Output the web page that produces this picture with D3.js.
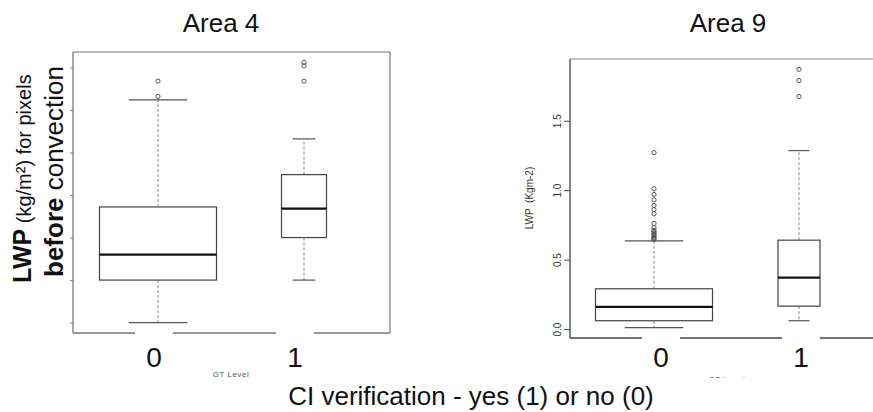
<!DOCTYPE html>
<html>
<head>
<meta charset="utf-8">
<script src="https://cdn.jsdelivr.net/npm/d3@7"></script>
<style>
  body { margin: 0; background: #fff; }
  text { font-family: "Liberation Sans", Arial, sans-serif; }
</style>
</head>
<body>
<div id="container"></div>
<script>
  // categories on the x axis (GT level)
  var categories = ["0", "1"];

  // Area 4 box statistics (y labels hidden in source)
  var area4Low = [0.00, 0.25];
  var area4Q1 = [0.25, 0.50];
  var area4Median = [0.40, 0.67];
  var area4Q3 = [0.68, 0.87];
  var area4High = [1.31, 1.08];
  var area4Outliers = [[1.33, 1.42], [1.42, 1.51, 1.53]];
  var area4Ticks = [0, 0.25, 0.5, 0.75, 1.0, 1.25, 1.5];

  // Area 9 box statistics
  var area9Low = [0.01, 0.06];
  var area9Q1 = [0.06, 0.165];
  var area9Median = [0.16, 0.37];
  var area9Q3 = [0.29, 0.64];
  var area9High = [0.635, 1.285];
  var area9Outliers = [
    [1.27, 1.01, 0.97, 0.93, 0.89, 0.86, 0.83, 0.76, 0.73, 0.71, 0.70, 0.69, 0.68, 0.67, 0.66, 0.65, 0.645],
    [1.675, 1.79, 1.87]
  ];
  var area9Ticks = [0.0, 0.5, 1.0, 1.5];
  var area9TickLabels = ["0.0", "0.5", "1.0", "1.5"];

  var width = 873, height = 412;

  var svg = d3.select("#container")
    .append("svg")
      .attr("width", width)
      .attr("height", height);

  svg.append("rect").attr("width", width).attr("height", height).attr("fill", "#fff");

  function boxData(low, q1, med, q3, high, outl) {
    return categories.map(function (c, i) {
      return { cat: c, low: low[i], q1: q1[i], med: med[i], q3: q3[i], high: high[i], out: outl[i] };
    });
  }

  function panel(p) {
    var data = boxData(p.low, p.q1, p.med, p.q3, p.high, p.out);

    // R style range: data extent plus 4%
    var all = [];
    data.forEach(function (d) { all.push(d.low, d.high); all = all.concat(d.out); });
    var lo = d3.min(all), hi = d3.max(all), pad = (hi - lo) * 0.04;

    var y = d3.scaleLinear().domain([lo - pad, hi + pad]).range([p.bottom, p.top]);
    var x = d3.scalePoint().domain(categories).range(p.centers);
    var xl = d3.scalePoint().domain(categories).range(p.labelCenters);

    var g = svg.append("g");

    // frame
    g.append("line").attr("x1", p.left).attr("x2", p.right).attr("y1", p.top).attr("y2", p.top)
      .attr("stroke", p.frameColor).attr("stroke-width", 1.2);
    g.append("line").attr("x1", p.right).attr("x2", p.right).attr("y1", p.top).attr("y2", p.bottom)
      .attr("stroke", p.frameColor).attr("stroke-width", 1.2);
    g.append("line").attr("x1", p.left).attr("x2", p.right).attr("y1", p.bottom).attr("y2", p.bottom)
      .attr("stroke", p.axisColor).attr("stroke-width", 1.3);

    // y axis
    var yAxis = d3.axisLeft(y).tickValues(p.ticks).tickSize(p.tickLen).tickSizeOuter(0)
      .tickFormat(function (d, i) { return p.tickLabels ? p.tickLabels[i] : ""; });
    var ax = g.append("g").attr("transform", "translate(" + p.left + ",0)").call(yAxis);
    ax.select(".domain").attr("stroke", p.axisColor).attr("stroke-width", 1.3)
      .attr("d", "M0," + p.top + "V" + p.bottom);
    ax.selectAll(".tick line").attr("stroke", p.axisColor);
    ax.selectAll(".tick text")
      .attr("transform", "rotate(-90)")
      .attr("x", 0).attr("y", -9).attr("dy", 0)
      .attr("text-anchor", "middle")
      .attr("fill", "#333")
      .style("font-size", "10px")
      .style("font-family", "'Liberation Sans', Arial, sans-serif");

    var boxes = g.selectAll(".box").data(data).enter().append("g").attr("class", "box");

    // whiskers
    boxes.append("line")
      .attr("x1", function (d) { return x(d.cat); }).attr("x2", function (d) { return x(d.cat); })
      .attr("y1", function (d) { return y(d.q3); }).attr("y2", function (d) { return y(d.high); })
      .attr("stroke", "#888").attr("stroke-dasharray", "3,2");
    boxes.append("line")
      .attr("x1", function (d) { return x(d.cat); }).attr("x2", function (d) { return x(d.cat); })
      .attr("y1", function (d) { return y(d.q1); }).attr("y2", function (d) { return y(d.low); })
      .attr("stroke", "#888").attr("stroke-dasharray", "3,2");

    // caps, half the box width
    ["high", "low"].forEach(function (k) {
      boxes.append("line")
        .attr("x1", function (d, i) { return x(d.cat) - p.boxWidths[i] / 4; })
        .attr("x2", function (d, i) { return x(d.cat) + p.boxWidths[i] / 4; })
        .attr("y1", function (d) { return y(d[k]); }).attr("y2", function (d) { return y(d[k]); })
        .attr("stroke", "#555").attr("stroke-width", 1.2);
    });

    // box
    boxes.append("rect")
      .attr("x", function (d, i) { return x(d.cat) - p.boxWidths[i] / 2; })
      .attr("width", function (d, i) { return p.boxWidths[i]; })
      .attr("y", function (d) { return y(d.q3); })
      .attr("height", function (d) { return y(d.q1) - y(d.q3); })
      .attr("fill", "#fff").attr("stroke", "#444").attr("stroke-width", 1.2);

    // median
    boxes.append("line")
      .attr("x1", function (d, i) { return x(d.cat) - p.boxWidths[i] / 2; })
      .attr("x2", function (d, i) { return x(d.cat) + p.boxWidths[i] / 2; })
      .attr("y1", function (d) { return y(d.med); }).attr("y2", function (d) { return y(d.med); })
      .attr("stroke", "#111").attr("stroke-width", 2.2);

    // outliers
    boxes.each(function (d) {
      d3.select(this).selectAll("circle").data(d.out).enter().append("circle")
        .attr("cx", x(d.cat)).attr("cy", function (v) { return y(v); })
        .attr("r", 2.1).attr("fill", "none").attr("stroke", "#555").attr("stroke-width", 1);
    });

    // big category labels pasted over the bottom of the frame
    categories.forEach(function (c) {
      g.append("rect").attr("x", xl(c) - 19).attr("y", p.bottom - 1.5).attr("width", 38).attr("height", 30)
        .attr("fill", "#fff");
      g.append("text").attr("x", xl(c)).attr("y", 367).attr("text-anchor", "middle")
        .style("font-size", "28px").attr("fill", "#111").text(c);
    });

    // small R axis title
    g.append("text").attr("x", p.gtX).attr("y", p.gtY).attr("text-anchor", "middle")
      .style("font-size", "8px").attr("fill", "#555").attr("letter-spacing", "0.5")
      .text("GT Level");

    // panel title
    g.append("text").attr("x", p.titleX).attr("y", 32).attr("text-anchor", "middle")
      .style("font-size", "26px").attr("fill", "#111").text(p.title);
  }

  panel({
    title: "Area 4", titleX: 221,
    low: area4Low, q1: area4Q1, med: area4Median, q3: area4Q3, high: area4High, out: area4Outliers,
    ticks: area4Ticks, tickLabels: null, tickLen: 3,
    left: 73, right: 390, top: 52, bottom: 333,
    centers: [158, 304], labelCenters: [154, 295], boxWidths: [117, 45],
    frameColor: "#777", axisColor: "#777", gtX: 231, gtY: 377
  });

  panel({
    title: "Area 9", titleX: 728,
    low: area9Low, q1: area9Q1, med: area9Median, q3: area9Q3, high: area9High, out: area9Outliers,
    ticks: area9Ticks, tickLabels: area9TickLabels, tickLen: 6,
    left: 570, right: 890, top: 59, bottom: 338,
    centers: [654, 799], labelCenters: [661, 801], boxWidths: [117, 42],
    frameColor: "#888", axisColor: "#444", gtX: 727, gtY: 381.5
  });

  // Area 9 y axis title
  svg.append("text")
    .attr("transform", "translate(533,198) rotate(-90)")
    .attr("text-anchor", "middle")
    .style("font-size", "10px").style("white-space", "pre").attr("fill", "#333")
    .text("LWP  (Kgm-2)");

  // big y label for Area 4
  var yl1 = svg.append("text").attr("transform", "translate(31,283) rotate(-90)").attr("fill", "#111");
  yl1.append("tspan").style("font-size", "25px").style("font-weight", "bold").text("LWP");
  yl1.append("tspan").style("font-size", "20px").text(" (kg/m²) for pixels");

  var yl2 = svg.append("text").attr("transform", "translate(63,277) rotate(-90)").attr("fill", "#111");
  yl2.append("tspan").style("font-size", "26px").style("font-weight", "bold").text("before");
  yl2.append("tspan").style("font-size", "26px").text(" convection");

  // shared x label with white backing (hides most of the right "GT Level")
  svg.append("rect").attr("x", 284).attr("y", 378).attr("width", 589).attr("height", 34).attr("fill", "#fff");
  svg.append("text").attr("x", 471).attr("y", 405).attr("text-anchor", "middle")
    .style("font-size", "26px").attr("fill", "#111")
    .text("CI verification - yes (1) or no (0)");
</script>
</body>
</html>
